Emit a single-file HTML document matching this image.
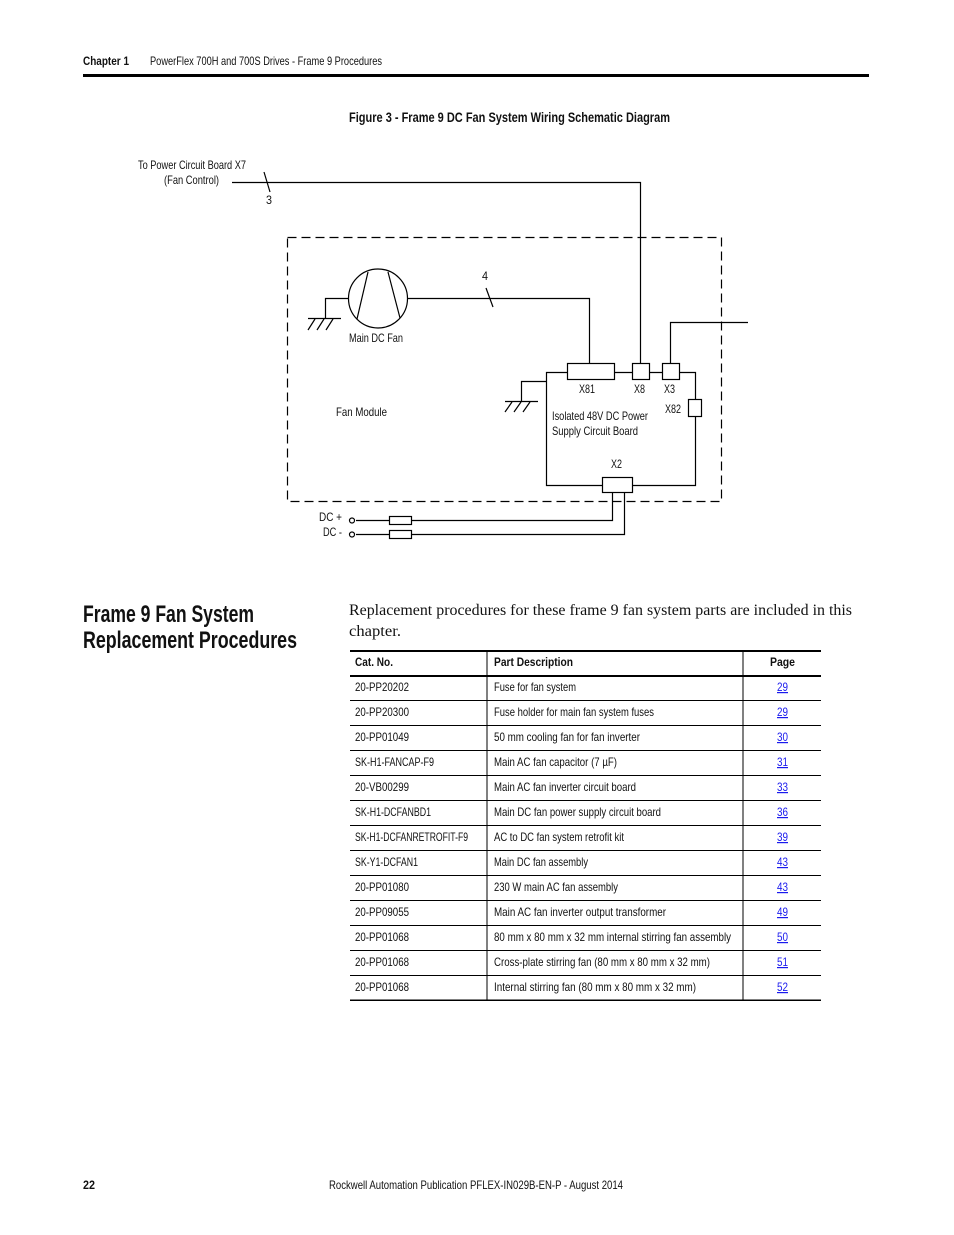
<!DOCTYPE html>
<html><head><meta charset="utf-8"><style>
html,body{margin:0;padding:0;background:#fff;}
svg{display:block;}
text{font-family:"Liberation Sans Narrow","Liberation Sans",sans-serif;fill:#111;}
.s{font-size:12px;}
.b{font-weight:bold;}
.ser{font-family:"Liberation Serif",serif;}
.lnk{fill:#1a1aee;}
</style></head><body>
<svg width="954" height="1235" viewBox="0 0 954 1235" xmlns="http://www.w3.org/2000/svg">
<text x="83" y="65" class="s b" textLength="46" lengthAdjust="spacingAndGlyphs">Chapter 1</text>
<text x="150" y="65" class="s" textLength="232" lengthAdjust="spacingAndGlyphs">PowerFlex 700H and 700S Drives - Frame 9 Procedures</text>
<rect x="83" y="74" width="786" height="3" fill="#000"/>
<text x="349" y="122" class="b" font-size="14" textLength="321" lengthAdjust="spacingAndGlyphs">Figure 3 - Frame 9 DC Fan System Wiring Schematic Diagram</text>

<g stroke="#000" stroke-width="1.2" fill="none">
<rect x="287.5" y="237.5" width="434" height="264" stroke-dasharray="9,5"/>
<path d="M232 182.5H640.5V363"/>
<path d="M264 172L270 192"/>
<circle cx="378" cy="298.5" r="29.5"/>
<path d="M357 319L368 272M388 272L400 318"/>
<path d="M325.5 318V298.5H348.5"/>
<path d="M308 318.5H341M308 330L315 319M317 330L324 319M326 330L333 319"/>
<path d="M407.5 298.5H589.5V363"/>
<path d="M486 288L493 307"/>
<rect x="567.5" y="363.5" width="47" height="16"/>
<rect x="632.5" y="363.5" width="17" height="16"/>
<rect x="662.5" y="363.5" width="17" height="16"/>
<path d="M670.5 363V322.5H748"/>
<path d="M567 372.5H546.5V485.5H602M632 485.5H695.5V416M614 372.5H632M649 372.5H662"/>
<path d="M679 372.5H695.5V399"/>
<rect x="688.5" y="399.5" width="13" height="17"/>
<rect x="602.5" y="477.5" width="30" height="15"/>
<path d="M546 381.5H521.5V401"/>
<path d="M505 401.5H538M505 412L512 402M514 412L521 402M523 412L530 402"/>
<path d="M612.5 492V520.5H411M389 520.5H356"/>
<path d="M624.5 492V534.5H411M389 534.5H356"/>
<rect x="389.5" y="516.5" width="22" height="8"/>
<rect x="389.5" y="530.5" width="22" height="8"/>
<circle cx="352" cy="520.5" r="2.5"/>
<circle cx="352" cy="534.5" r="2.5"/>
</g>
<g class="s">
<text x="138" y="169" textLength="108" lengthAdjust="spacingAndGlyphs">To Power Circuit Board X7</text>
<text x="164" y="184" textLength="55" lengthAdjust="spacingAndGlyphs">(Fan Control)</text>
<text x="266" y="204" textLength="6" lengthAdjust="spacingAndGlyphs">3</text>
<text x="482" y="280" textLength="6" lengthAdjust="spacingAndGlyphs">4</text>
<text x="349" y="342" textLength="54" lengthAdjust="spacingAndGlyphs">Main DC Fan</text>
<text x="336" y="416" textLength="51" lengthAdjust="spacingAndGlyphs">Fan Module</text>
<text x="579" y="393" textLength="16" lengthAdjust="spacingAndGlyphs">X81</text>
<text x="634" y="393" textLength="11" lengthAdjust="spacingAndGlyphs">X8</text>
<text x="664" y="393" textLength="11" lengthAdjust="spacingAndGlyphs">X3</text>
<text x="665" y="413" textLength="16" lengthAdjust="spacingAndGlyphs">X82</text>
<text x="552" y="420" textLength="96" lengthAdjust="spacingAndGlyphs">Isolated 48V DC Power</text>
<text x="552" y="435" textLength="86" lengthAdjust="spacingAndGlyphs">Supply Circuit Board</text>
<text x="611" y="468" textLength="11" lengthAdjust="spacingAndGlyphs">X2</text>
<text x="319" y="521" textLength="23" lengthAdjust="spacingAndGlyphs">DC +</text>
<text x="323" y="536" textLength="19" lengthAdjust="spacingAndGlyphs">DC -</text>
</g>

<text x="83" y="622" class="b" font-size="24" textLength="171" lengthAdjust="spacingAndGlyphs">Frame 9 Fan System</text>
<text x="83" y="648" class="b" font-size="24" textLength="214" lengthAdjust="spacingAndGlyphs">Replacement Procedures</text>
<text x="349" y="615" class="ser" font-size="16" textLength="503" lengthAdjust="spacingAndGlyphs">Replacement procedures for these frame 9 fan system parts are included in this</text>
<text x="349" y="636" class="ser" font-size="16" textLength="52" lengthAdjust="spacingAndGlyphs">chapter.</text>

<g fill="#000">
<rect x="350" y="650" width="471" height="2"/>
<rect x="350" y="675" width="471" height="2"/>
<rect x="486.5" y="650" width="1" height="350"/>
<rect x="742.5" y="650" width="1" height="350"/>
<rect x="350" y="700" width="471" height="1"/>
<rect x="350" y="725" width="471" height="1"/>
<rect x="350" y="750" width="471" height="1"/>
<rect x="350" y="775" width="471" height="1"/>
<rect x="350" y="800" width="471" height="1"/>
<rect x="350" y="825" width="471" height="1"/>
<rect x="350" y="850" width="471" height="1"/>
<rect x="350" y="875" width="471" height="1"/>
<rect x="350" y="900" width="471" height="1"/>
<rect x="350" y="925" width="471" height="1"/>
<rect x="350" y="950" width="471" height="1"/>
<rect x="350" y="975" width="471" height="1"/>
<rect x="350" y="999.5" width="471" height="1.5"/>
</g>
<g class="s">
<text x="355" y="666" class="b" textLength="38" lengthAdjust="spacingAndGlyphs">Cat. No.</text>
<text x="494" y="666" class="b" textLength="79" lengthAdjust="spacingAndGlyphs">Part Description</text>
<text x="770" y="666" class="b" textLength="25" lengthAdjust="spacingAndGlyphs">Page</text>

<text x="355" y="691" textLength="54" lengthAdjust="spacingAndGlyphs">20-PP20202</text><text x="494" y="691" textLength="82" lengthAdjust="spacingAndGlyphs">Fuse for fan system</text><text x="777" y="691" class="lnk" text-decoration="underline" textLength="11" lengthAdjust="spacingAndGlyphs">29</text>
<text x="355" y="716" textLength="54" lengthAdjust="spacingAndGlyphs">20-PP20300</text><text x="494" y="716" textLength="160" lengthAdjust="spacingAndGlyphs">Fuse holder for main fan system fuses</text><text x="777" y="716" class="lnk" text-decoration="underline" textLength="11" lengthAdjust="spacingAndGlyphs">29</text>
<text x="355" y="741" textLength="54" lengthAdjust="spacingAndGlyphs">20-PP01049</text><text x="494" y="741" textLength="146" lengthAdjust="spacingAndGlyphs">50 mm cooling fan for fan inverter</text><text x="777" y="741" class="lnk" text-decoration="underline" textLength="11" lengthAdjust="spacingAndGlyphs">30</text>
<text x="355" y="766" textLength="79" lengthAdjust="spacingAndGlyphs">SK-H1-FANCAP-F9</text><text x="494" y="766" textLength="123" lengthAdjust="spacingAndGlyphs">Main AC fan capacitor (7 µF)</text><text x="777" y="766" class="lnk" text-decoration="underline" textLength="11" lengthAdjust="spacingAndGlyphs">31</text>
<text x="355" y="791" textLength="54" lengthAdjust="spacingAndGlyphs">20-VB00299</text><text x="494" y="791" textLength="142" lengthAdjust="spacingAndGlyphs">Main AC fan inverter circuit board</text><text x="777" y="791" class="lnk" text-decoration="underline" textLength="11" lengthAdjust="spacingAndGlyphs">33</text>
<text x="355" y="816" textLength="76" lengthAdjust="spacingAndGlyphs">SK-H1-DCFANBD1</text><text x="494" y="816" textLength="167" lengthAdjust="spacingAndGlyphs">Main DC fan power supply circuit board</text><text x="777" y="816" class="lnk" text-decoration="underline" textLength="11" lengthAdjust="spacingAndGlyphs">36</text>
<text x="355" y="841" textLength="113" lengthAdjust="spacingAndGlyphs">SK-H1-DCFANRETROFIT-F9</text><text x="494" y="841" textLength="130" lengthAdjust="spacingAndGlyphs">AC to DC fan system retrofit kit</text><text x="777" y="841" class="lnk" text-decoration="underline" textLength="11" lengthAdjust="spacingAndGlyphs">39</text>
<text x="355" y="866" textLength="63" lengthAdjust="spacingAndGlyphs">SK-Y1-DCFAN1</text><text x="494" y="866" textLength="94" lengthAdjust="spacingAndGlyphs">Main DC fan assembly</text><text x="777" y="866" class="lnk" text-decoration="underline" textLength="11" lengthAdjust="spacingAndGlyphs">43</text>
<text x="355" y="891" textLength="54" lengthAdjust="spacingAndGlyphs">20-PP01080</text><text x="494" y="891" textLength="124" lengthAdjust="spacingAndGlyphs">230 W main AC fan assembly</text><text x="777" y="891" class="lnk" text-decoration="underline" textLength="11" lengthAdjust="spacingAndGlyphs">43</text>
<text x="355" y="916" textLength="54" lengthAdjust="spacingAndGlyphs">20-PP09055</text><text x="494" y="916" textLength="172" lengthAdjust="spacingAndGlyphs">Main AC fan inverter output transformer</text><text x="777" y="916" class="lnk" text-decoration="underline" textLength="11" lengthAdjust="spacingAndGlyphs">49</text>
<text x="355" y="941" textLength="54" lengthAdjust="spacingAndGlyphs">20-PP01068</text><text x="494" y="941" textLength="237" lengthAdjust="spacingAndGlyphs">80 mm x 80 mm x 32 mm internal stirring fan assembly</text><text x="777" y="941" class="lnk" text-decoration="underline" textLength="11" lengthAdjust="spacingAndGlyphs">50</text>
<text x="355" y="966" textLength="54" lengthAdjust="spacingAndGlyphs">20-PP01068</text><text x="494" y="966" textLength="216" lengthAdjust="spacingAndGlyphs">Cross-plate stirring fan (80 mm x 80 mm x 32 mm)</text><text x="777" y="966" class="lnk" text-decoration="underline" textLength="11" lengthAdjust="spacingAndGlyphs">51</text>
<text x="355" y="991" textLength="54" lengthAdjust="spacingAndGlyphs">20-PP01068</text><text x="494" y="991" textLength="202" lengthAdjust="spacingAndGlyphs">Internal stirring fan (80 mm x 80 mm x 32 mm)</text><text x="777" y="991" class="lnk" text-decoration="underline" textLength="11" lengthAdjust="spacingAndGlyphs">52</text>
</g>

<text x="83" y="1189" class="s b" textLength="12" lengthAdjust="spacingAndGlyphs">22</text>
<text x="329" y="1189" class="s" textLength="294" lengthAdjust="spacingAndGlyphs">Rockwell Automation Publication PFLEX-IN029B-EN-P - August 2014</text>
</svg>
</body></html>
